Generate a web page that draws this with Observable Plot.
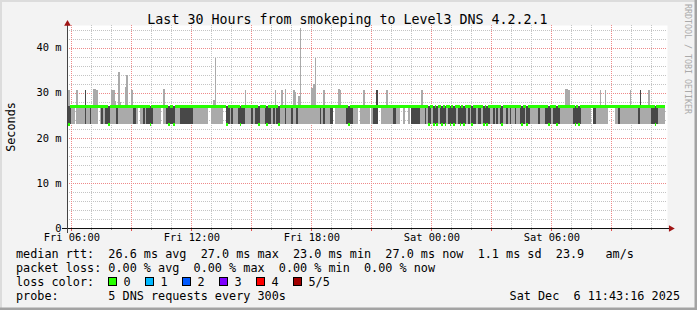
<!DOCTYPE html>
<html><head><meta charset="utf-8">
<script src="https://cdn.jsdelivr.net/npm/d3@7"></script>
<script src="https://cdn.jsdelivr.net/npm/@observablehq/plot@0.6"></script>
<style>
html,body{margin:0;padding:0;background:#f3f3f3;}
#chart{width:697px;height:310px;}
svg text{white-space:pre;}
</style></head><body><div id="chart"></div>
<script>
// ---- data ----
const title = "Last 30 Hours from smokeping to Level3 DNS 4.2.2.1";
const yTicks = [0, 10, 20, 30, 40];
const yTickLabels = ["0", "10 m", "20 m", "30 m", "40 m"];
const xTicks = [6, 12, 18, 24, 30];            // hours since Fri 00:00
const xTickLabels = ["Fri 06:00", "Fri 12:00", "Fri 18:00", "Sat 00:00", "Sat 06:00"];
const rangeStartHour = 5 + 47 / 60;             // Fri 05:47
const rangeEndHour = 35 + 47 / 60;              // Sat 11:47
const startHour = 5 + 50 / 60;                  // first 5-minute sample
const stepHours = 5 / 60;
const baseLow = 23.0;                           // ms, fastest ping
const baseHigh = 27.0;                          // ms, usual ping
// per 5-minute step: "." all pings 27 ms, "l" one ping 23 ms, "d" two pings 23 ms, "m" median 23 ms
const smokeCodes = [
  "mdll.lllll" + "dlldllll.l" + "dlddmlllld" + "llllllllld" + "dl.lldlddm" + "dlllll.lld",
  "mddmlllddd" + "dddddlllll" + "llll..llll" + "lll..mdldl" + "lldmddllll" + "dlddmllldm",
  "ddldldmlll" + "dllldlldll" + "llllllllll" + "ldldllldd." + "llllllldmd" + "dlll.lllll",
  "l.lddd..ll" + "lllllddll." + ".l..l.dddd" + "dllldlmdlm" + "dmldmdmldm" + "dmdldmdmdl",
  "dlmddlddlm" + "dmdlldldld" + "mlldldlldl" + "ldmdlmdlll" + "lldlllddmd" + "lddmdlllll",
  "llldmdmdll" + "llll.ddlll" + "llll....ll" + "dlllllllll" + "lldlllllll" + "ddmdllll"
];
// [step index, highest ping ms, second-highest also high (1)]
const spikes = [
  [0, 30.5, 0], [5, 30.5, 0], [10, 30.5, 1], [15, 30.9, 0], [16, 30.9, 0], [17, 30.6, 0],
  [26, 30.5, 0], [27, 30.5, 0], [28, 28.1, 0], [30, 34.5, 0], [31, 28.0, 0], [34, 31.3, 0],
  [35, 34.0, 0], [38, 30.5, 0], [57, 30.8, 0],
  [87, 28.3, 0], [88, 37.6, 0], [106, 30.5, 0],
  [124, 30.5, 0], [128, 30.5, 0], [130, 30.8, 0], [135, 30.5, 0], [136, 30.2, 0], [138, 29.3, 0],
  [139, 44.4, 0], [146, 31.0, 0], [147, 32.0, 0], [148, 37.6, 0], [153, 30.5, 0], [162, 30.8, 0],
  [163, 30.5, 0], [177, 30.5, 0],
  [185, 30.5, 1], [191, 30.5, 0], [212, 30.5, 0],
  [298, 30.9, 0], [299, 30.9, 0], [300, 30.7, 0], [319, 30.5, 0], [322, 30.5, 0], [337, 30.5, 0],
  [343, 30.5, 1], [348, 30.5, 0]
];
const lossLabels = ["0", "1", "2", "3", "4", "5/5"];
const lossColors = ["#26ff00", "#00b8ff", "#0059ff", "#7e00ff", "#ff0000", "#a10000"];
const legendLine1 = "median rtt:  26.6 ms avg  27.0 ms max  23.0 ms min  27.0 ms now  1.1 ms sd  23.9   am/s";
const legendLine2 = "packet loss: 0.00 % avg  0.00 % max  0.00 % min  0.00 % now";
const legendLine3 = "loss color:";
const legendLine4 = "probe:       5 DNS requests every 300s";
const stamp = "Sat Dec  6 11:43:16 2025";
const watermark = "RRDTOOL / TOBI OETIKER";
const yLabel = "Seconds";

// ---- derived table ----
const codes = smokeCodes.join("").split("");
const steps = codes.map((c, i) => {
  const sp = spikes.find(s => s[0] === i);
  const t0 = startHour + i * stepHours;
  return {
    t0, t1: t0 + stepHours,
    lo: c === "." ? baseHigh : baseLow,
    hi: sp ? Math.max(baseHigh, sp[1]) : baseHigh,
    ilo: (c === "d" || c === "m") ? baseLow : baseHigh,
    ihi: sp && sp[2] ? sp[1] : baseHigh,
    med: c === "m" ? baseLow : baseHigh
  };
});
const outer = steps.filter(d => d.hi > d.lo);
const inner = steps.filter(d => d.ihi > d.ilo);

const hours = d3.range(6, 36);
const minorX = hours.filter(h => h % 3 !== 0);
const majorX = hours.filter(h => h % 3 === 0);
const yVals = d3.range(2, 45, 2);
const minorY = yVals.filter(v => v % 10 !== 0);
const majorY = yVals.filter(v => v % 10 === 0);
const gridGray = "#c4c4c4";
const gridRed = "#ee8a8a";
const medHalf = 0.3;
const crisp = {shapeRendering: "crispEdges"};

const chart = Plot.plot({
  width: 697, height: 310,
  marginLeft: 67, marginRight: 30, marginTop: 25, marginBottom: 82,
  x: {domain: [rangeStartHour, rangeEndHour]},
  y: {domain: [0, 45]},
  style: {background: "#f3f3f3", fontFamily: "DejaVu Sans Mono", fontSize: "10.4px", color: "#000", overflow: "visible"},
  marks: [
    Plot.frame({fill: "white", stroke: "none"}),
    Plot.ruleX(minorX, {stroke: gridGray, strokeDasharray: "1,1", ...crisp}),
    Plot.ruleY(minorY, {stroke: gridGray, strokeDasharray: "1,1", ...crisp}),
    Plot.ruleX(majorX, {stroke: gridRed, strokeDasharray: "1,1", ...crisp}),
    Plot.ruleY(majorY, {stroke: gridRed, strokeDasharray: "1,1", ...crisp}),
    Plot.rect(outer, {x1: "t0", x2: "t1", y1: "lo", y2: "hi", fill: "#aaaaaa", ...crisp}),
    Plot.rect(inner, {x1: "t0", x2: "t1", y1: "ilo", y2: "ihi", fill: "#484848", ...crisp}),
    Plot.rect(steps, {x1: "t0", x2: "t1", y1: d => d.med - medHalf, y2: d => d.med + medHalf, fill: lossColors[0], ...crisp}),
    // axis ticks below x axis
    Plot.ruleX(minorX, {y1: 0, y2: -0.45, stroke: "#999", clip: false, ...crisp}),
    Plot.ruleX(majorX, {y1: 0, y2: -0.7, stroke: "#e05050", clip: false, ...crisp}),
    // axis lines
    Plot.ruleY([0], {x1: rangeStartHour - 0.25, x2: rangeEndHour + 0.1, stroke: "#111", clip: false, ...crisp}),
    Plot.ruleX([rangeStartHour], {y1: -1, y2: 45.4, stroke: "#444", clip: false, ...crisp}),
    Plot.dot([[rangeEndHour + 0.17, 0]], {x: d => d[0], y: d => d[1], symbol: "triangle", r: 2.5, rotate: 90, fill: "#a01515", stroke: "none", clip: false}),
    Plot.dot([[rangeStartHour, 45.35]], {x: d => d[0], y: d => d[1], symbol: "triangle", r: 2.5, fill: "#a01515", stroke: "none", clip: false}),
    Plot.axisX(xTicks, {tickFormat: d => xTickLabels[xTicks.indexOf(d)], tickSize: 0, tickPadding: 5, label: null, fontSize: 10.4}),
    Plot.axisY(yTicks, {tickFormat: d => yTickLabels[yTicks.indexOf(d)], tickSize: 0, tickPadding: 6, label: null, fontSize: 10.4})
  ]
});
document.getElementById("chart").appendChild(chart);

// ---- surrounding texts (RRDtool layout) ----
const svg = d3.select(chart);
const txt = (x, y, s, size, anchor = "start", fill = "#000") =>
  svg.append("text").attr("x", x).attr("y", y).attr("text-anchor", anchor)
    .attr("fill", fill).style("font-size", size + "px").style("font-family", "DejaVu Sans Mono").text(s);
txt(347.5, 24, title, 13.3, "middle");
svg.append("text").attr("transform", "translate(15,127) rotate(-90)").attr("text-anchor", "middle")
  .style("font-size", "11.8px").style("font-family", "DejaVu Sans Mono").attr("fill", "#000").text(yLabel);
svg.append("text").attr("transform", "translate(684.5,4) rotate(90)").attr("text-anchor", "start")
  .style("font-size", "8.3px").style("font-family", "DejaVu Sans Mono").attr("fill", "#aaaaaa").text(watermark);
const lf = 11.8;
txt(16, 258.3, legendLine1, lf);
txt(16, 272.3, legendLine2, lf);
txt(16, 286.3, legendLine3, lf);
txt(16, 300.3, legendLine4, lf);
txt(680, 300.3, stamp, lf, "end");
lossLabels.forEach((lab, i) => {
  const bx = 108 + 37 * i;
  svg.append("rect").attr("x", bx + 0.5).attr("y", 277.5).attr("width", 8).attr("height", 8)
    .attr("fill", lossColors[i]).attr("stroke", "#000").attr("stroke-width", 1);
  txt(bx + 15.5, 286.3, lab, lf);
});
// frame shading
svg.append("rect").attr("x", 0).attr("y", 0).attr("width", 697).attr("height", 2).attr("fill", "#dcdcdc");
svg.append("rect").attr("x", 0).attr("y", 0).attr("width", 2).attr("height", 310).attr("fill", "#dcdcdc");
svg.append("rect").attr("x", 694.5).attr("y", 0).attr("width", 2.5).attr("height", 310).attr("fill", "#a3a3a3");
svg.append("rect").attr("x", 0).attr("y", 307.5).attr("width", 697).attr("height", 2.5).attr("fill", "#a3a3a3");
</script></body></html>
